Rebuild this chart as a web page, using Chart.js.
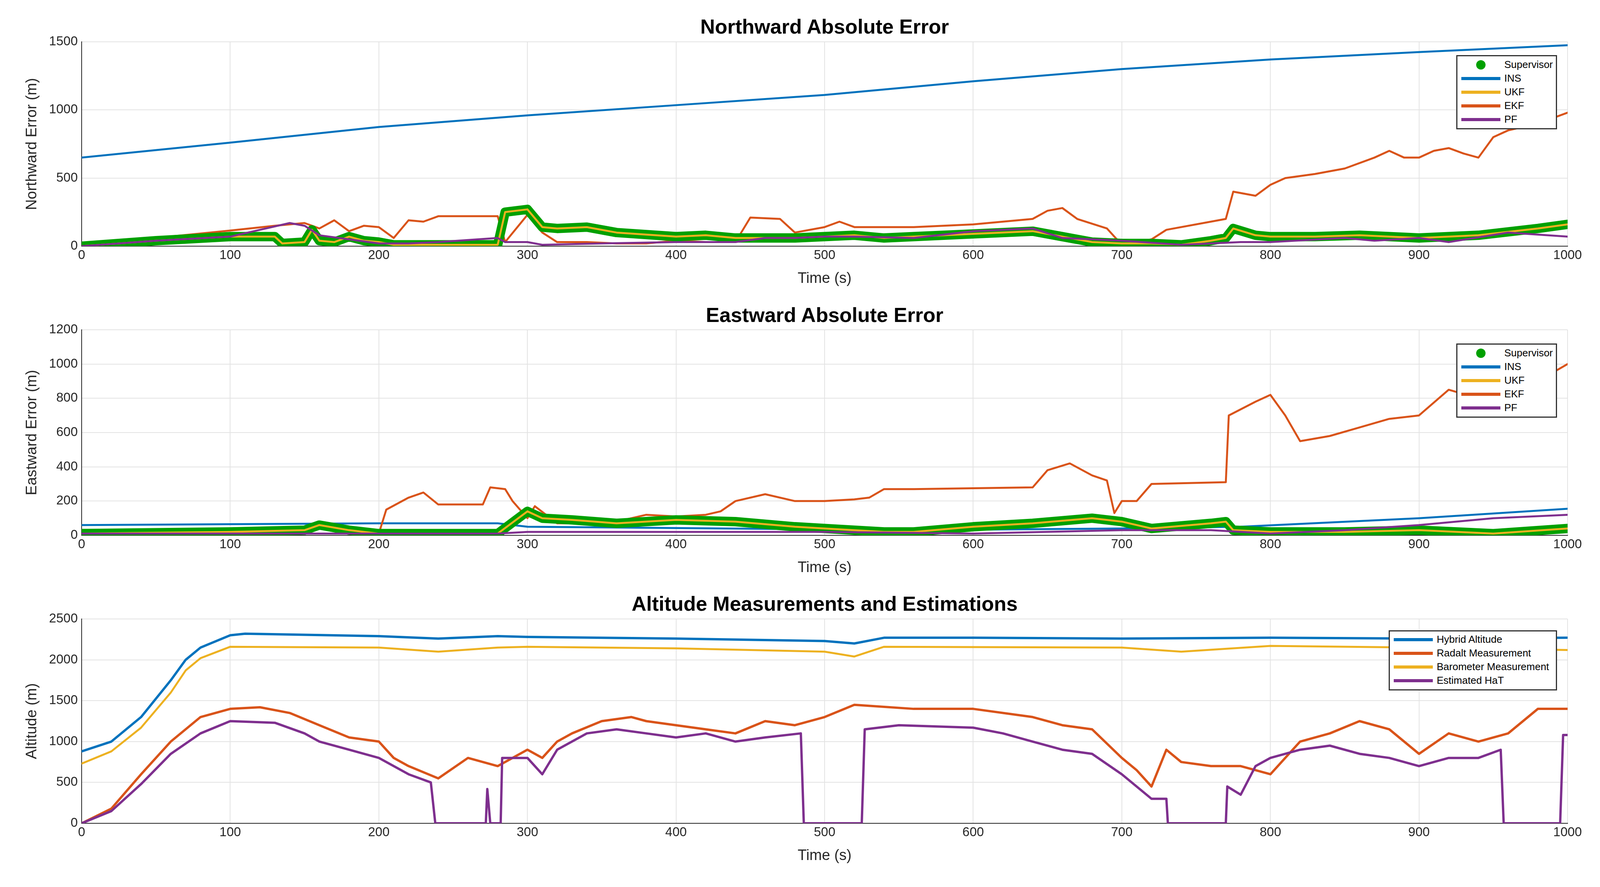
<!DOCTYPE html>
<html><head><meta charset="utf-8">
<script src="https://cdn.jsdelivr.net/npm/chart.js@4.4.0/dist/chart.umd.min.js"></script>
<style>
body{margin:0;background:#fff;width:4099px;height:2270px;overflow:hidden;position:relative;font-family:"Liberation Sans",Arial,sans-serif}
canvas{position:absolute;left:0}
.title{position:absolute;left:209px;width:3804px;text-align:center;font-weight:bold;font-size:52px;color:#000}
.leg{position:absolute;background:#fff;border:3px solid #333;font-size:26px;box-sizing:border-box;padding:4px 10px;white-space:nowrap}
.leg div{display:flex;align-items:center;height:35px}
.leg span{flex-shrink:0}
.leg span.l{display:inline-block;width:100px;height:8px;margin-right:10px}
.leg span.d{display:inline-block;width:24px;height:24px;border-radius:50%;background:#00a000;margin:0 48px 0 38px}
</style></head><body>
<div class="title" style="top:38px">Northward Absolute Error</div>
<div class="title" style="top:776px">Eastward Absolute Error</div>
<div class="title" style="top:1515px">Altitude Measurements and Estimations</div>
<canvas id="c1" width="4099" height="740" style="top:0"></canvas>
<canvas id="c2" width="4099" height="740" style="top:740px"></canvas>
<canvas id="c3" width="4099" height="790" style="top:1480px"></canvas>
<div class="leg" style="left:3728px;top:141px;width:258px;height:190px">
<div><span class="d"></span>Supervisor</div><div><span class="l" style="background:#0072bd"></span>INS</div><div><span class="l" style="background:#edb120"></span>UKF</div><div><span class="l" style="background:#d95319"></span>EKF</div><div><span class="l" style="background:#7e2f8e"></span>PF</div></div>
<div class="leg" style="left:3728px;top:879px;width:258px;height:190px">
<div><span class="d"></span>Supervisor</div><div><span class="l" style="background:#0072bd"></span>INS</div><div><span class="l" style="background:#edb120"></span>UKF</div><div><span class="l" style="background:#d95319"></span>EKF</div><div><span class="l" style="background:#7e2f8e"></span>PF</div></div>
<div class="leg" style="left:3555px;top:1613px;width:431px;height:154px;padding:3px 10px">
<div><span class="l" style="background:#0072bd"></span>Hybrid Altitude</div><div><span class="l" style="background:#d95319"></span>Radalt Measurement</div><div><span class="l" style="background:#edb120"></span>Barometer Measurement</div><div><span class="l" style="background:#7e2f8e"></span>Estimated HaT</div></div>
<script>
// ---- Northward ----
const nInsT=[0,100,200,300,400,500,600,700,800,900,1000];
const nInsV=[650,760,875,960,1035,1110,1210,1300,1370,1425,1475];
const nEkfT=[0,50,100,130,150,160,170,180,190,200,210,220,230,240,280,285,300,310,320,340,360,380,400,420,440,450,470,480,500,510,520,560,600,640,650,660,670,690,700,710,720,730,770,775,790,800,810,830,850,870,880,890,900,910,920,930,940,950,960,980,1000];
const nEkfV=[0,60,115,150,170,130,190,110,150,140,60,190,180,220,220,30,230,100,30,30,20,20,40,30,30,210,200,100,140,180,140,140,160,200,260,280,200,130,10,30,50,120,200,400,370,450,500,530,570,650,700,650,650,700,720,680,650,800,850,900,980];
const nUkfT=[0,50,100,130,135,150,155,160,170,180,190,200,210,220,280,285,300,310,320,340,360,400,420,440,460,480,500,520,540,560,600,640,660,680,700,720,740,760,770,775,790,800,830,860,900,940,980,1000];
const nUkfV=[0,40,70,70,20,30,120,40,30,70,40,30,10,10,10,250,270,140,130,140,100,70,80,60,60,60,70,80,60,70,90,110,70,30,20,20,10,40,60,130,80,70,70,80,60,80,130,160];
const nPfT=[0,50,100,120,140,150,160,180,200,220,240,280,285,300,310,350,400,440,460,480,500,520,560,600,640,660,700,740,780,800,850,870,900,920,960,1000];
const nPfV=[0,40,70,120,170,150,80,50,20,20,30,60,30,30,10,20,30,30,60,60,70,70,60,110,130,60,40,10,30,30,60,40,60,30,100,70];
// ---- Eastward ----
const eInsT=[0,200,280,300,500,560,700,780,900,1000];
const eInsV=[60,70,70,50,35,30,40,50,100,155];
const eEkfT=[0,100,160,180,200,205,220,230,240,270,275,285,290,300,305,320,340,360,380,400,420,430,440,460,480,500,520,530,540,560,640,650,665,680,690,695,700,710,720,770,772,790,800,810,820,840,860,880,900,920,940,960,980,1000];
const eEkfV=[20,20,40,30,10,150,220,250,180,180,280,270,200,100,170,70,70,80,120,110,120,140,200,240,200,200,210,220,270,270,280,380,420,350,320,130,200,200,300,310,700,780,820,700,550,580,630,680,700,850,800,880,900,1000];
const eUkfT=[0,100,150,160,180,200,280,300,310,330,360,400,440,480,500,540,560,600,640,680,700,720,760,770,775,800,850,900,950,1000];
const eUkfV=[10,20,30,60,30,10,10,140,100,90,70,90,80,50,40,20,20,50,70,100,80,40,70,80,30,20,20,30,10,40];
const ePfT=[0,200,280,300,400,500,600,700,760,800,850,900,950,1000];
const ePfV=[10,10,10,20,20,20,10,30,30,10,30,60,100,120];
// ---- Altitude ----
const aHybT=[0,20,40,60,70,80,100,110,200,240,280,300,400,500,520,540,600,700,800,900,1000];
const aHybV=[880,1000,1300,1750,2000,2150,2300,2320,2290,2260,2290,2280,2260,2230,2200,2270,2270,2260,2270,2260,2270];
const aBarT=[0,20,40,60,70,80,100,200,240,280,300,400,500,520,540,700,740,800,900,1000];
const aBarV=[730,880,1170,1600,1870,2020,2160,2150,2100,2150,2160,2140,2100,2040,2160,2150,2100,2170,2150,2120];
const aRadT=[0,20,40,60,80,100,120,140,160,180,200,210,220,240,260,270,280,300,310,320,330,350,370,380,400,420,440,460,480,500,520,560,600,640,660,680,700,710,720,730,740,760,780,800,820,840,860,880,900,920,940,960,980,1000];
const aRadV=[0,180,600,1000,1300,1400,1420,1350,1200,1050,1000,800,700,550,800,750,700,900,800,1000,1100,1250,1300,1250,1200,1150,1100,1250,1200,1300,1450,1400,1400,1300,1200,1150,800,650,450,900,750,700,700,600,1000,1100,1250,1150,850,1100,1000,1100,1400,1400];
const aHatT=[0,20,40,60,80,100,130,150,160,180,200,220,235,238,272,273,275,282,283,300,310,320,340,360,380,400,420,440,460,484,486,525,527,550,600,620,640,660,680,700,720,730,731,770,771,780,790,800,820,840,860,880,900,920,940,955,957,995,997,1000];
const aHatV=[0,150,480,850,1100,1250,1230,1100,1000,900,800,600,500,0,0,420,0,0,800,800,600,900,1100,1150,1100,1050,1100,1000,1050,1100,0,0,1150,1200,1170,1100,1000,900,850,600,300,300,0,0,450,350,700,800,900,950,850,800,700,800,800,900,0,0,1080,1080];

const C={ins:'#0072bd',ukf:'#edb120',ekf:'#d95319',pf:'#7e2f8e',sup:'#00a000'};
const zip=(t,v)=>t.map((x,i)=>({x,y:v[i]}));
const ds=(label,t,v,color,w,order)=>({label,data:zip(t,v),borderColor:color,borderWidth:w,pointRadius:0,tension:0,order,fill:false,borderJoinStyle:'round',borderCapStyle:'round'});
const font='"Liberation Sans",Arial,sans-serif';
function make(id,datasets,ymax,ystep,ylabel,padBottom){
  new Chart(document.getElementById(id),{type:'line',data:{datasets},
  options:{responsive:false,animation:false,layout:{padding:{top:id==='c1'?107:104,right:86,bottom:padBottom,left:0}},
   plugins:{legend:{display:false},tooltip:{enabled:false}},
   scales:{
    x:{type:'linear',min:0,max:1000,afterFit:s=>{s.height=110},
       ticks:{stepSize:100,color:'#262626',font:{family:font,size:33},padding:4,callback:v=>String(v)},
       grid:{color:'#e3e3e3',lineWidth:2,tickLength:0},border:{color:'#262626',width:2},
       title:{display:true,text:'Time (s)',color:'#262626',font:{family:font,size:38},padding:{top:2}}},
    y:{min:0,max:ymax,afterFit:s=>{s.width=209},
       ticks:{stepSize:ystep,color:'#262626',font:{family:font,size:33},padding:10,callback:v=>String(v)},
       grid:{color:'#e3e3e3',lineWidth:2,tickLength:0},border:{color:'#262626',width:2},
       title:{display:true,text:ylabel,color:'#262626',font:{family:font,size:38},padding:{top:60,bottom:6}}}}}});
}
make('c1',[ds('INS',nInsT,nInsV,C.ins,5,5),ds('EKF',nEkfT,nEkfV,C.ekf,5,4),ds('Supervisor',nUkfT,nUkfV,C.sup,24,3),ds('UKF',nUkfT,nUkfV,C.ukf,5,2),ds('PF',nPfT,nPfV,C.pf,5,1)],1500,500,'Northward Error (m)',0);
make('c2',[ds('INS',eInsT,eInsV,C.ins,5,5),ds('EKF',eEkfT,eEkfV,C.ekf,5,4),ds('Supervisor',eUkfT,eUkfV,C.sup,24,3),ds('UKF',eUkfT,eUkfV,C.ukf,5,2),ds('PF',ePfT,ePfV,C.pf,5,1)],1200,200,'Eastward Error (m)',0);
make('c3',[ds('Hybrid Altitude',aHybT,aHybV,C.ins,6,4),ds('Radalt Measurement',aRadT,aRadV,C.ekf,6,3),ds('Barometer Measurement',aBarT,aBarV,C.ukf,5,2),ds('Estimated HaT',aHatT,aHatV,C.pf,6,1)],2500,500,'Altitude (m)',53);
</script></body></html>
